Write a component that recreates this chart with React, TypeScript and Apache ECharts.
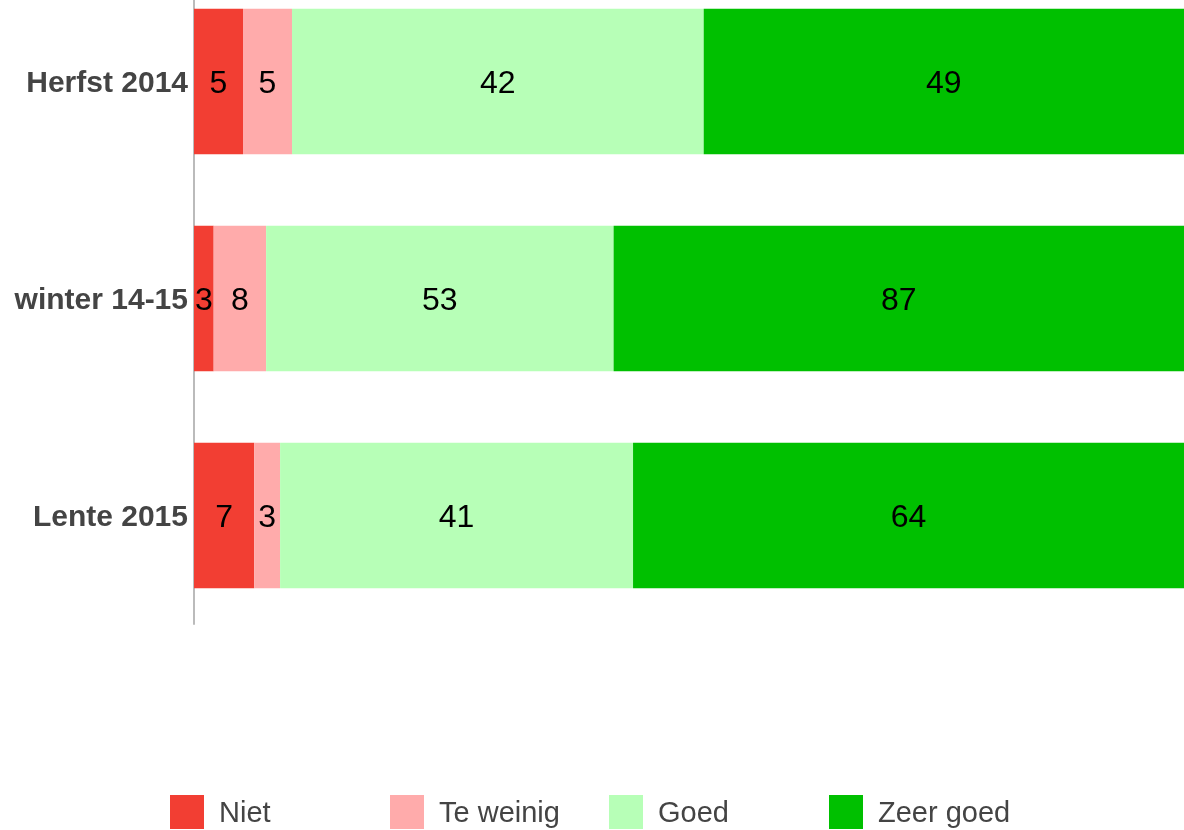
import React, { useEffect, useRef } from "react";
import * as echarts from "echarts";

const categories = ["Herfst 2014", "winter 14-15", "Lente 2015"];
const seriesNames = ["Niet", "Te weinig", "Goed", "Zeer goed"];
const niet = [5, 3, 7];
const teWeinig = [5, 8, 3];
const goed = [42, 53, 41];
const zeerGoed = [49, 87, 64];
const colors = ["#f23e33", "#ffabab", "#b7ffb7", "#00c000"];

export default function App() {
  const ref = useRef<HTMLDivElement>(null);
  useEffect(() => {
    const chart = echarts.init(ref.current!, null, { renderer: "svg" });
    const raw = [niet, teWeinig, goed, zeerGoed];
    const totals = categories.map((_, i) => raw.reduce((s, a) => s + a[i], 0));
    const font = "Liberation Sans, Arial, sans-serif";
    const legendLefts = [170, 390, 609, 829];
    chart.setOption({
      animation: false,
      grid: { left: 194, right: 0, top: 0, bottom: 206, containLabel: false },
      xAxis: { type: "value", min: 0, max: 100, show: false },
      yAxis: {
        type: "category",
        data: categories,
        inverse: true,
        axisLine: { show: true, lineStyle: { color: "#bbbbbb", width: 2 } },
        axisTick: { show: false },
        axisLabel: {
          color: "#444444",
          fontWeight: "bold",
          fontSize: 30,
          fontFamily: font,
          margin: 6,
        },
      },
      legend: seriesNames.map((n, i) => ({
        data: [n],
        left: legendLefts[i],
        top: 822,
        itemWidth: 34,
        itemHeight: 34,
        itemGap: 0,
        padding: 0,
        icon: "rect",
        textStyle: { color: "#444444", fontSize: 29, fontFamily: font, padding: [0, 0, 0, 10] },
      })),
      series: seriesNames.map((n, si) => ({
        name: n,
        type: "bar",
        stack: "total",
        barWidth: "67%",
        itemStyle: { color: colors[si] },
        data: raw[si].map((v, i) => (v / totals[i]) * 100),
        label: {
          show: true,
          position: "inside",
          color: "#000000",
          fontSize: 32,
          fontFamily: font,
          formatter: (p: any) => String(raw[si][p.dataIndex]),
        },
      })),
    });
    return () => chart.dispose();
  }, []);
  return (
    <div
      ref={ref}
      style={{ position: "fixed", left: 0, top: -27, width: 1184, height: 857 }}
    />
  );
}
